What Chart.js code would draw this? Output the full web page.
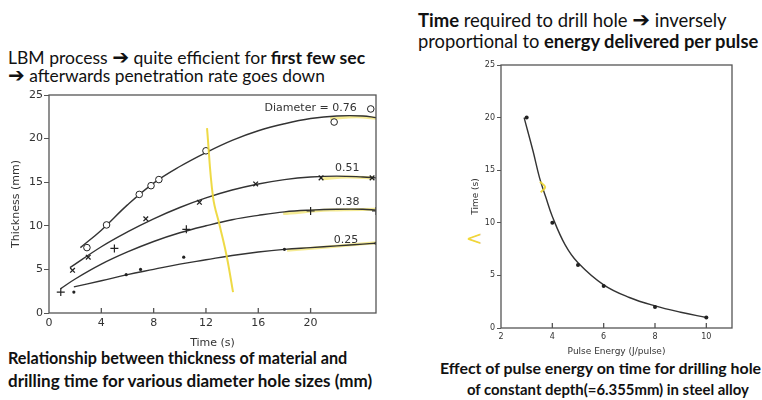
<!DOCTYPE html>
<html>
<head>
<meta charset="utf-8">
<script src="https://cdn.jsdelivr.net/npm/chart.js@4.4.1/dist/chart.umd.min.js"></script>
<style>
  body { margin: 0; width: 762px; height: 400px; background: #fff; position: relative; overflow: hidden; font-family: Lato, "Open Sans", sans-serif; color: #111; }
  .t { position: absolute; white-space: nowrap; font-size: 15px; line-height: 18px; }
  .t b { font-weight: 700; }
  .arr { font-family: "DejaVu Sans"; font-weight: bold; font-size: 1.15em; line-height: 1; }
  .cap { font-weight: 700; }
  #c1 { position: absolute; left: 0; top: 85px; }
  #c2 { position: absolute; left: 445px; top: 55px; }
  .mark { position: absolute; left: 466px; top: 226px; color: #f0d63a; font-size: 20px; font-family: "DejaVu Sans"; }
</style>
</head>
<body>
<div class="t" style="left:8px;top:47px" data-w="357">LBM process <span class="arr">➔</span> quite efficient for <b>first few sec</b></div>
<div class="t" style="left:8px;top:66px" data-w="317"><span class="arr">➔</span> afterwards penetration rate goes down</div>
<div class="t" style="left:418px;top:9px" data-w="309"><b>Time</b> required to drill hole <span class="arr">➔</span> inversely</div>
<div class="t" style="left:418px;top:32px" data-w="340">proportional to <b>energy delivered per pulse</b></div>
<div class="t cap" style="left:8px;top:349px" data-w="339">Relationship between thickness of material and</div>
<div class="t cap" style="left:8px;top:372px" data-w="364">drilling time for various diameter hole sizes (mm)</div>
<div class="t cap" style="left:440px;top:359px" data-w="321">Effect of pulse energy on time for drilling hole</div>
<div class="t cap" style="left:467px;top:380px" data-w="282">of constant depth(=6.355mm) in steel alloy</div>
<div class="mark">&lt;</div>

<canvas id="c1" width="385" height="270"></canvas>
<canvas id="c2" width="310" height="305"></canvas>

<script>
// left chart: thickness (mm) vs time (s), one set per hole diameter
const diameters = ['Diameter = 0.76', '0.51', '0.38', '0.25'];

const pts076 = [[2.9, 7.5], [4.4, 10.1], [6.9, 13.6], [7.8, 14.6], [8.4, 15.3], [12.0, 18.6], [21.8, 21.9], [24.6, 23.4]];
const pts051 = [[1.8, 4.9], [3.0, 6.4], [7.4, 10.8], [11.5, 12.7], [15.8, 14.8], [20.8, 15.5], [24.7, 15.5]];
const pts038 = [[0.9, 2.4], [5.0, 7.4], [10.5, 9.6], [20.0, 11.7], [25.0, 11.7]];
const pts025 = [[1.9, 2.4], [5.9, 4.4], [7.0, 5.0], [10.3, 6.4], [18.0, 7.3], [25.0, 8.0]];

const fit076 = [[2.4, 7.5], [4, 9.5], [6, 12.4], [8, 14.9], [10, 16.8], [12, 18.4], [14, 19.8], [16, 20.9], [18, 21.7], [20, 22.3], [22, 22.6], [24, 22.6], [25, 22.4]];
const fit051 = [[1.6, 5.2], [4, 7.6], [6, 9.3], [8, 10.8], [10, 12.1], [12, 13.2], [14, 14.1], [16, 14.8], [18, 15.3], [20, 15.6], [22, 15.7], [24, 15.6], [25, 15.5]];
const fit038 = [[0.9, 2.8], [2, 3.9], [4, 5.6], [6, 7.0], [8, 8.2], [10, 9.2], [12, 10.0], [14, 10.7], [16, 11.2], [18, 11.6], [20, 11.8], [22, 11.9], [24, 11.9], [25, 11.8]];
const fit025 = [[1.9, 3.0], [4, 3.7], [6, 4.4], [8, 5.0], [10, 5.6], [12, 6.1], [14, 6.6], [16, 7.0], [18, 7.3], [20, 7.5], [22, 7.7], [24, 7.9], [25, 8.0]];

// yellow highlighter strokes somebody drew over the scan
const penStroke = [[12.08, 21.2], [12.54, 13.3], [13.07, 9.9], [13.6, 6.4], [14.07, 2.4]];
const hl076 = [[21.5, 22.3], [23.5, 22.5], [25.2, 22.3]];
const hl051 = [[20.9, 15.4], [22.8, 15.6], [24.8, 15.5]];
const hl038 = [[17.9, 11.4], [21.5, 11.8], [25.3, 11.9]];
const hl025 = [[18.2, 7.2], [21.5, 7.6], [25.3, 8.1]];

// right chart: drilling time (s) vs pulse energy (J/pulse)
const energy = [3, 4, 5, 6, 8, 10];
const drillTime = [20, 10, 6, 4, 2, 1];
const timeFit = [[2.9, 20], [3.25, 16.8], [3.5, 14.3], [3.75, 12.4], [4, 10.6], [4.5, 7.9], [5, 6.2], [6, 4.1], [7, 2.9], [8, 2.1], [9, 1.5], [10, 1.0]];
const penMark = [[3.52, 13.9], [3.72, 13.4], [3.55, 12.9]];

const xy = arr => arr.map(p => ({ x: p[0], y: p[1] }));
const ink = '#333';
const yellow = 'rgba(236, 214, 50, 0.9)';
const hiYellow = 'rgba(240, 224, 90, 0.65)';

const boxPlugin = {
  id: 'box',
  afterDraw(chart) {
    const { ctx, chartArea: a } = chart;
    const xs = chart.scales.x;
    ctx.save();
    ctx.strokeStyle = '#555';
    ctx.lineWidth = 1.3;
    ctx.strokeRect(a.left, a.top, a.right - a.left, a.bottom - a.top);
    // x ticks point inwards on the scan
    ctx.beginPath();
    xs.ticks.forEach(t => {
      const px = xs.getPixelForValue(t.value);
      if (px <= a.left + 1 || px >= a.right - 1) return;
      ctx.moveTo(px, a.bottom);
      ctx.lineTo(px, a.bottom - 5);
    });
    ctx.stroke();
    ctx.restore();
  }
};

// where the diameter labels sit, in data units
const labelAt = [[20.0, 23.5], [22.8, 16.6], [22.8, 12.7], [22.7, 8.4]];
const labelPlugin = {
  id: 'dia',
  afterDatasetsDraw(chart) {
    const { ctx, scales: { x, y } } = chart;
    ctx.save();
    ctx.font = '11px "DejaVu Sans"';
    ctx.fillStyle = ink;
    ctx.textAlign = 'center';
    ctx.textBaseline = 'middle';
    diameters.forEach((txt, i) => {
      ctx.fillText(txt, x.getPixelForValue(labelAt[i][0]), y.getPixelForValue(labelAt[i][1]));
    });
    ctx.restore();
  }
};

const curve = (data, color, width, order) => ({
  data: xy(data), showLine: true, pointRadius: 0, borderColor: color,
  borderWidth: width, tension: 0.4, order: order
});
const marks = (data, style, r, fill, bw) => ({
  data: xy(data), showLine: false, pointStyle: style, pointRadius: r,
  borderColor: '#222', backgroundColor: fill, borderWidth: bw, order: 1
});

const tickFont = { family: 'DejaVu Sans', size: 11 };

new Chart(document.getElementById('c1'), {
  type: 'scatter',
  data: {
    datasets: [
      curve(penStroke, yellow, 2, 0),
      curve(hl076, hiYellow, 3, 4),
      curve(hl051, hiYellow, 3, 4),
      curve(hl038, hiYellow, 3, 4),
      curve(hl025, hiYellow, 3, 4),
      curve(fit076, ink, 1.4, 2),
      curve(fit051, ink, 1.4, 2),
      curve(fit038, ink, 1.4, 2),
      curve(fit025, ink, 1.4, 2),
      marks(pts076, 'circle', 3.3, '#fff', 1),
      marks(pts051, 'crossRot', 3.3, '#222', 1.3),
      marks(pts038, 'cross', 4, '#222', 1.2),
      marks(pts025, 'circle', 1.6, '#222', 0)
    ]
  },
  options: {
    responsive: false,
    animation: false,
    layout: { padding: { top: 10, right: 9, left: 0, bottom: 0 } },
    plugins: { legend: { display: false }, tooltip: { enabled: false } },
    scales: {
      x: {
        min: 0, max: 25,
        grid: { display: false, drawTicks: false },
        border: { display: false },
        ticks: {
          stepSize: 2, padding: 4, color: ink, font: tickFont, maxRotation: 0,
          callback: v => (v % 4 === 0 ? v : null)
        },
        title: { display: true, text: 'Time (s)', color: ink, font: tickFont, padding: { top: 0, bottom: 5 } },
        afterFit(s) { s.height = 42; }
      },
      y: {
        min: 0, max: 25,
        grid: { drawOnChartArea: false, tickLength: 5, color: '#555' },
        border: { display: false },
        ticks: { stepSize: 5, padding: 1, color: ink, font: tickFont },
        title: { display: true, text: 'Thickness (mm)', color: ink, font: tickFont, padding: { top: 10, bottom: 0 } },
        afterFit(s) { s.width = 49; }
      }
    }
  },
  plugins: [boxPlugin, labelPlugin]
});

const smallFont = { family: 'DejaVu Sans', size: 8 };
const titleFont = { family: 'DejaVu Sans', size: 9 };

new Chart(document.getElementById('c2'), {
  type: 'scatter',
  data: {
    datasets: [
      curve(penMark, yellow, 2, 0),
      curve(timeFit, ink, 1.4, 2),
      {
        data: energy.map((e, i) => ({ x: e, y: drillTime[i] })),
        showLine: false, pointRadius: 2, backgroundColor: '#222', borderWidth: 0, order: 1
      }
    ]
  },
  options: {
    responsive: false,
    animation: false,
    layout: { padding: { top: 10, right: 23, left: 0, bottom: 0 } },
    plugins: { legend: { display: false }, tooltip: { enabled: false } },
    scales: {
      x: {
        min: 2, max: 11,
        grid: { display: false, drawTicks: false },
        border: { display: false },
        ticks: {
          stepSize: 2, padding: 4, color: ink, font: smallFont, maxRotation: 0,
          callback: v => (v <= 10 ? v : null)
        },
        title: { display: true, text: 'Pulse Energy (J/pulse)', color: ink, font: titleFont, padding: { top: 0, bottom: 3 } },
        afterFit(s) { s.height = 32; }
      },
      y: {
        min: 0, max: 25,
        grid: { drawOnChartArea: false, tickLength: 4, color: '#555' },
        border: { display: false },
        ticks: { stepSize: 5, padding: 2, color: ink, font: smallFont },
        title: { display: true, text: 'Time (s)', color: ink, font: titleFont, padding: { top: 25, bottom: 0 } },
        afterFit(s) { s.width = 56; }
      }
    }
  },
  plugins: [boxPlugin]
});

// squeeze each text line to the width it has on the slide
document.querySelectorAll('.t[data-w]').forEach(el => {
  const w = +el.dataset.w;
  const fs = parseFloat(getComputedStyle(el).fontSize);
  el.style.fontSize = (fs * w / el.offsetWidth).toFixed(2) + 'px';
});
</script>
</body>
</html>
